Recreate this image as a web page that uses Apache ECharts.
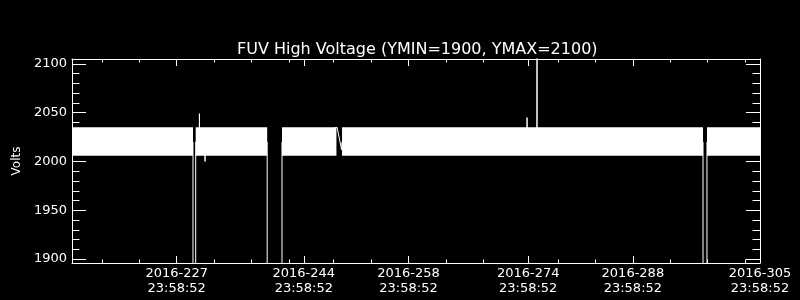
<!DOCTYPE html>
<html>
<head>
<meta charset="utf-8">
<script src="https://cdn.jsdelivr.net/npm/echarts@6/dist/echarts.min.js"></script>
<style>
html,body{margin:0;padding:0;background:#000;}
#chart{width:800px;height:300px;}
</style>
</head>
<body>
<div id="chart"></div>
<script>
// ---- data ----
const chartTitle = 'FUV High Voltage (YMIN=1900, YMAX=2100)';
const yName = 'Volts';
// x is day-of-year 2016 (fractional)
const xMin = 213;
const xMax = 305;
const yMin = 1896;
const yMax = 2105;
const majorDays = [227, 244, 258, 274, 288, 305];
const majorDateLabels = ['2016-227', '2016-244', '2016-258', '2016-274', '2016-288', '2016-305'];
const majorTimeLabels = ['23:58:52', '23:58:52', '23:58:52', '23:58:52', '23:58:52', '23:58:52'];
const minorDays = [217, 222, 232, 237, 242, 248, 253, 263, 268, 278, 283, 293, 298, 303];
const majorVolts = [1900, 1950, 2000, 2050, 2100];
const majorVoltLabels = ['1900', '1950', '2000', '2050', '2100'];
const minorVolts = [1910, 1920, 1930, 1940, 1960, 1970, 1980, 1990, 2010, 2020, 2030, 2040, 2060, 2070, 2080, 2090];

// dense noisy band: envelope per continuous stretch
const bandStart = [213.00, 229.54, 241.08, 249.11, 297.91];
const bandEnd   = [229.18, 239.10, 248.36, 297.38, 305.00];
const bandLow   = [2006, 2006, 2006, 2006, 2006];
const bandHigh  = [2035, 2035, 2035, 2035, 2035];

// trace through the gaps and spikes
const traceDays  = [213.00, 229.18, 229.18, 229.54, 229.54, 230.04, 230.04, 230.04, 230.79, 230.79, 230.79,
                    239.10, 239.10, 241.08, 241.08, 248.45, 249.05, 249.10,
                    273.85, 273.85, 273.85, 275.18, 275.18, 275.18,
                    297.38, 297.38, 297.91, 297.91, 305.00];
const traceVolts = [2020, 2020, 0, 0, 2020, 2020, 2049, 2020, 2020, 2000, 2020,
                    2020, 0, 0, 2020, 2035, 2012, 2020,
                    2020, 2045, 2020, 2020, 2150, 2020,
                    2020, 0, 0, 2020, 2020];

// ---- build ----
const bandData = bandStart.map((s, i) => [s, bandEnd[i], bandLow[i], bandHigh[i]]);
const traceData = traceDays.map((d, i) => [d, traceVolts[i]]);

const FONT = 'DejaVu Sans';
const WHITE = '#ffffff';

function xAx(pos, values, len, showLine, showLabel) {
  return {
    type: 'value', position: pos, min: xMin, max: xMax, gridIndex: 0,
    splitLine: { show: false },
    axisLine: { show: showLine, onZero: false, lineStyle: { color: WHITE, width: 1 } },
    axisTick: { show: true, inside: true, length: len, customValues: values, lineStyle: { color: WHITE, width: 1 } },
    axisLabel: showLabel ? {
      show: true, customValues: values, color: WHITE, fontFamily: FONT, fontSize: 13, lineHeight: 15, margin: 3,
      formatter: function (v) {
        const i = majorDays.indexOf(v);
        return i >= 0 ? majorDateLabels[i] + '\n' + majorTimeLabels[i] : '';
      }
    } : { show: false }
  };
}
function yAx(pos, values, len, showLine, showLabel) {
  const ax = {
    type: 'value', position: pos, min: yMin, max: yMax, gridIndex: 0,
    splitLine: { show: false },
    axisLine: { show: showLine, onZero: false, lineStyle: { color: WHITE, width: 1 } },
    axisTick: { show: true, inside: true, length: len, customValues: values, lineStyle: { color: WHITE, width: 1 } },
    axisLabel: showLabel ? {
      show: true, customValues: values, color: WHITE, fontFamily: FONT, fontSize: 13, margin: 5,
      formatter: function (v) {
        const i = majorVolts.indexOf(v);
        return i >= 0 ? majorVoltLabels[i] : '';
      }
    } : { show: false }
  };
  if (showLabel) {
    ax.name = yName;
    ax.nameLocation = 'middle';
    ax.nameRotate = 90;
    ax.nameGap = 45;
    ax.nameTextStyle = { color: WHITE, fontFamily: FONT, fontSize: 12 };
  }
  return ax;
}

const chart = echarts.init(document.getElementById('chart'), null, { renderer: 'canvas' });
chart.setOption({
  animation: false,
  backgroundColor: '#000000',
  title: {
    text: chartTitle, left: 232, top: 37,
    textStyle: { color: WHITE, fontFamily: FONT, fontSize: 16, fontWeight: 'normal' }
  },
  grid: { left: 72, right: 40, top: 59, bottom: 37, containLabel: false },
  xAxis: [
    xAx('bottom', majorDays, 7, true, true),
    xAx('bottom', minorDays, 3.5, false, false),
    xAx('top', majorDays, 7, true, false),
    xAx('top', minorDays, 3.5, false, false)
  ],
  yAxis: [
    yAx('left', majorVolts, 14, true, true),
    yAx('left', minorVolts, 7.5, false, false),
    yAx('right', majorVolts, 14, true, false),
    yAx('right', minorVolts, 7.5, false, false)
  ],
  series: [
    {
      type: 'custom', xAxisIndex: 0, yAxisIndex: 0, clip: true,
      data: bandData,
      encode: { x: [0, 1], y: [2, 3] },
      renderItem: function (params, api) {
        const p0 = api.coord([api.value(0), api.value(3)]);
        const p1 = api.coord([api.value(1), api.value(2)]);
        return { type: 'rect', shape: { x: p0[0], y: p0[1], width: p1[0] - p0[0], height: p1[1] - p0[1] }, style: { fill: WHITE } };
      }
    },
    {
      type: 'line', xAxisIndex: 0, yAxisIndex: 0, clip: true,
      data: traceData, showSymbol: false, symbol: 'none',
      lineStyle: { color: WHITE, width: 1 }
    }
  ]
});
</script>
</body>
</html>
